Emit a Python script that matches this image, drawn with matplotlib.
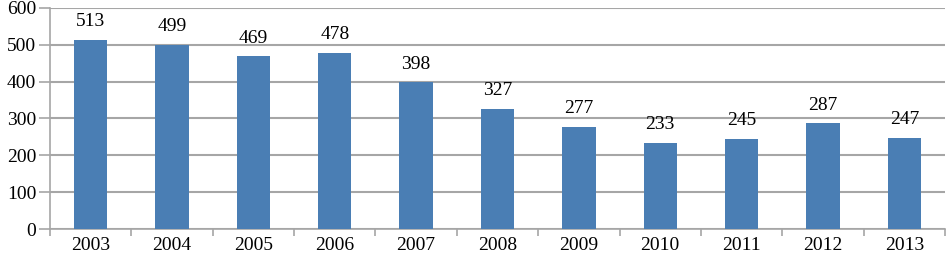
import numpy as np
import matplotlib.pyplot as plt

years = ["2003", "2004", "2005", "2006", "2007", "2008", "2009", "2010", "2011", "2012", "2013"]
values = [513, 499, 469, 478, 398, 327, 277, 233, 245, 287, 247]

plt.rcParams["font.family"] = ["Liberation Serif", "DejaVu Serif"]

fig = plt.figure(figsize=(9.52, 2.61), dpi=100)
ax = fig.add_axes([50 / 952, 32 / 261, 895 / 952, 221 / 261])

x = np.arange(len(years))
bars = ax.bar(x, values, width=0.41, color="#4a7eb4", zorder=3)

for xi, v in zip(x, values):
    ax.annotate(str(v), (xi, v), xytext=(0, 7), textcoords="offset points",
                ha="center", va="bottom", fontsize=14)

ax.set_xlim(-0.5, len(years) - 0.5)
ax.set_ylim(0, 600)
ax.set_yticks(range(0, 601, 100))
ax.yaxis.grid(True, color="#a6a6a6", linewidth=1.5, zorder=0)

ax.set_xticks(x)
ax.set_xticklabels(years)
ax.set_xticks(np.arange(-0.5, len(years)), minor=True)
ax.tick_params(axis="x", which="major", length=0, labelsize=14, pad=6)
ax.tick_params(axis="x", which="minor", length=5, color="#a6a6a6", width=1.2, direction="out")
ax.tick_params(axis="y", length=8, color="#a6a6a6", width=1.2, labelsize=14, pad=2)

for s in ["top", "right"]:
    ax.spines[s].set_visible(False)
for s in ["left", "bottom"]:
    ax.spines[s].set_color("#a6a6a6")
    ax.spines[s].set_linewidth(1.2)

fig.savefig("out.png", dpi=100)
